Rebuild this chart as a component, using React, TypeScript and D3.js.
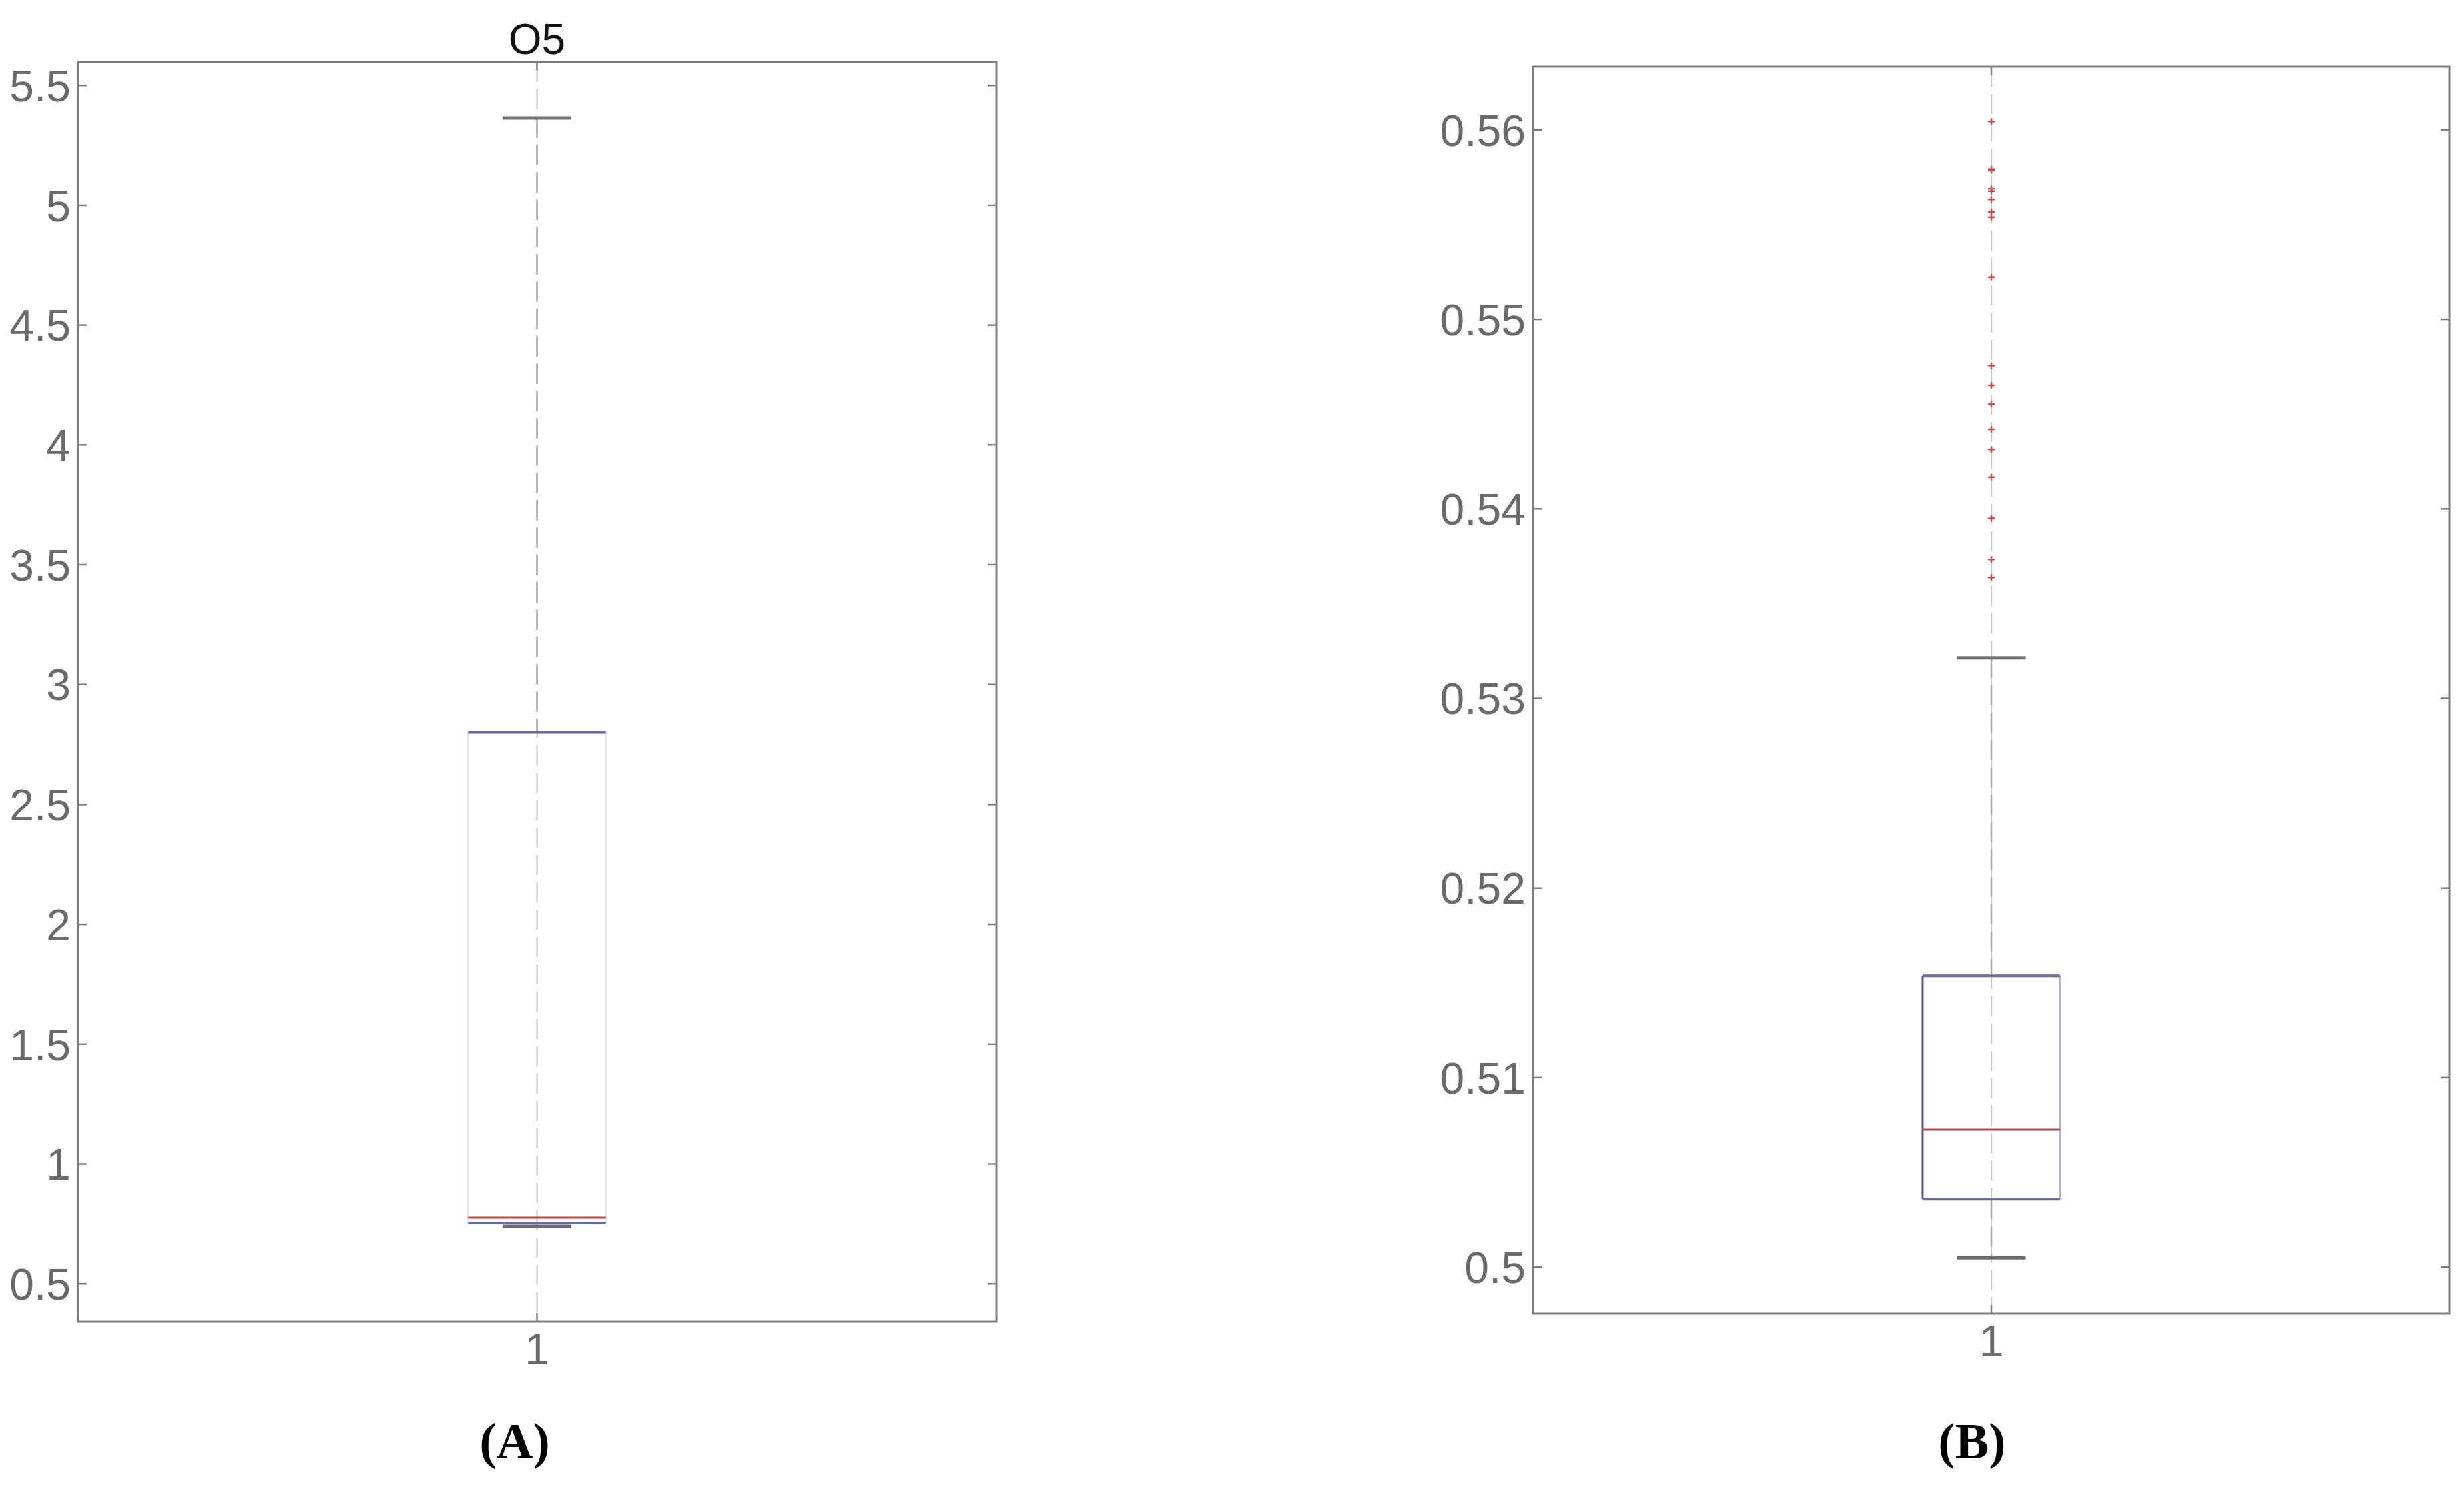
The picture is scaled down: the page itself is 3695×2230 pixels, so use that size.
import React from 'react';
import * as d3 from 'd3';

// box statistics: [lower whisker, Q1, median, Q3, upper whisker]
const categories = ['1'];
const statsA = [0.74, 0.754, 0.776, 2.8, 5.364];
const statsB = [0.50049, 0.50358, 0.50725, 0.51537, 0.53214];
const outliersA: number[] = [];
const outliersB = [
  0.56045, 0.55793, 0.55786, 0.55689, 0.55677, 0.55633, 0.55568, 0.5554,
  0.55223, 0.54756, 0.54652, 0.54553, 0.5442, 0.54313, 0.54167, 0.5395,
  0.53733, 0.53638,
];
const yTicksA = [0.5, 1, 1.5, 2, 2.5, 3, 3.5, 4, 4.5, 5, 5.5];
const yTicksB = [0.5, 0.51, 0.52, 0.53, 0.54, 0.55, 0.56];
const yDomainA = [0.342, 5.598];
const yDomainB = [0.49754, 0.56334];
const titles = ['O5', ''];
const panelLabels = ['(A)', '(B)'];

const W = 3695;
const H = 2230;
const AXIS = '#7c7c7c';
const TICK_TEXT = '#6a6a6a';
const SANS = "'Liberation Sans', Arial, sans-serif";
const SERIF = "'Liberation Serif', 'Times New Roman', serif";

type PanelProps = {
  frame: { left: number; right: number; top: number; bottom: number };
  stats: number[];
  outliers: number[];
  ticks: number[];
  domain: number[];
  title: string;
  label: string;
  labelX: number;
  sideLeft: string;
  sideRight: string;
};

const Panel = ({ frame, stats, outliers, ticks, domain, title, label, labelX, sideLeft, sideRight }: PanelProps) => {
  const { left, right, top, bottom } = frame;
  const y = d3.scaleLinear().domain(domain).range([bottom, top]);
  const x = d3.scalePoint().domain(categories).range([left, right]).padding(0.5);
  const cx = x('1') as number;
  const boxW = (right - left) * 0.15;
  const capW = boxW / 2;
  const [lo, q1, med, q3, hi] = stats;
  const tickLen = 13;
  const fmt = (v: number) => String(+v.toFixed(2));

  return (
    <g>
      {/* faint dashed line through the whole plot at x = 1 */}
      <line x1={cx} x2={cx} y1={top} y2={bottom} stroke="#c4c4c4" strokeWidth={2} strokeDasharray="30 11" />
      {/* whiskers */}
      <line x1={cx} x2={cx} y1={y(hi)} y2={y(q3)} stroke="#a9a9a9" strokeWidth={2.5} strokeDasharray="30 11" />
      <line x1={cx} x2={cx} y1={y(q1)} y2={y(lo)} stroke="#a9a9a9" strokeWidth={2.5} strokeDasharray="30 11" />
      <line x1={cx - capW / 2} x2={cx + capW / 2} y1={y(hi)} y2={y(hi)} stroke="#727272" strokeWidth={5} />
      <line x1={cx - capW / 2} x2={cx + capW / 2} y1={y(lo)} y2={y(lo)} stroke="#6c6c78" strokeWidth={5} />
      {/* box */}
      <line x1={cx - boxW / 2} x2={cx - boxW / 2} y1={y(q3)} y2={y(q1)} stroke={sideLeft} strokeWidth={3} />
      <line x1={cx + boxW / 2} x2={cx + boxW / 2} y1={y(q3)} y2={y(q1)} stroke={sideRight} strokeWidth={3} />
      <line x1={cx - boxW / 2} x2={cx + boxW / 2} y1={y(q3)} y2={y(q3)} stroke="#6a6a9c" strokeWidth={4} />
      <line x1={cx - boxW / 2} x2={cx + boxW / 2} y1={y(q1)} y2={y(q1)} stroke="#6a6a9c" strokeWidth={4} />
      <line x1={cx - boxW / 2} x2={cx + boxW / 2} y1={y(med)} y2={y(med)} stroke="#b04848" strokeWidth={3} />
      {/* outliers */}
      {outliers.map((v, i) => (
        <path
          key={i}
          d={`M${cx - 5},${y(v)}H${cx + 5}M${cx},${y(v) - 5}V${y(v) + 5}`}
          stroke="#c25050"
          strokeWidth={2.5}
          fill="none"
        />
      ))}
      {/* frame */}
      <rect x={left} y={top} width={right - left} height={bottom - top} fill="none" stroke={AXIS} strokeWidth={3} />
      {/* y ticks, left and right, pointing in */}
      {ticks.map((t) => (
        <g key={t}>
          <line x1={left} x2={left + tickLen} y1={y(t)} y2={y(t)} stroke={AXIS} strokeWidth={2.5} />
          <line x1={right} x2={right - tickLen} y1={y(t)} y2={y(t)} stroke={AXIS} strokeWidth={2.5} />
          <text
            x={left - 11}
            y={y(t)}
            dy="0.36em"
            textAnchor="end"
            fontFamily={SANS}
            fontSize={66}
            fill={TICK_TEXT}
          >
            {fmt(t)}
          </text>
        </g>
      ))}
      {/* x tick and label */}
      {categories.map((c) => (
        <g key={c}>
          <line x1={x(c)} x2={x(c)} y1={bottom} y2={bottom - tickLen} stroke={AXIS} strokeWidth={2.5} />
          <line x1={x(c)} x2={x(c)} y1={top} y2={top + tickLen} stroke={AXIS} strokeWidth={2.5} />
          <text x={x(c)} y={bottom + 64} textAnchor="middle" fontFamily={SANS} fontSize={66} fill={TICK_TEXT}>
            {c}
          </text>
        </g>
      ))}
      {title && (
        <text x={cx} y={top - 12} textAnchor="middle" fontFamily={SANS} fontSize={64} fill="#111">
          {title}
        </text>
      )}
      <text x={labelX} y={2187} textAnchor="middle" fontFamily={SERIF} fontWeight="bold" fontSize={76} fill="#000">
        {label}
      </text>
    </g>
  );
};

const App = () => {
  return (
    <svg
      width={W}
      height={H}
      viewBox={`0 0 ${W} ${H}`}
      style={{ position: 'absolute', left: 0, top: 0, background: '#fff' }}
    >
      <rect width={W} height={H} fill="#fff" />
      <Panel
        frame={{ left: 117, right: 1494, top: 93, bottom: 1982 }}
        stats={statsA}
        outliers={outliersA}
        ticks={yTicksA}
        domain={yDomainA}
        title={titles[0]}
        label={panelLabels[0]}
        labelX={772}
        sideLeft="#e2e2ee"
        sideRight="#e6e6ee"
      />
      <Panel
        frame={{ left: 2299, right: 3673, top: 100, bottom: 1970 }}
        stats={statsB}
        outliers={outliersB}
        ticks={yTicksB}
        domain={yDomainB}
        title={titles[1]}
        label={panelLabels[1]}
        labelX={2957}
        sideLeft="#5c5c8c"
        sideRight="#b4b4c4"
      />
    </svg>
  );
};

export default App;
